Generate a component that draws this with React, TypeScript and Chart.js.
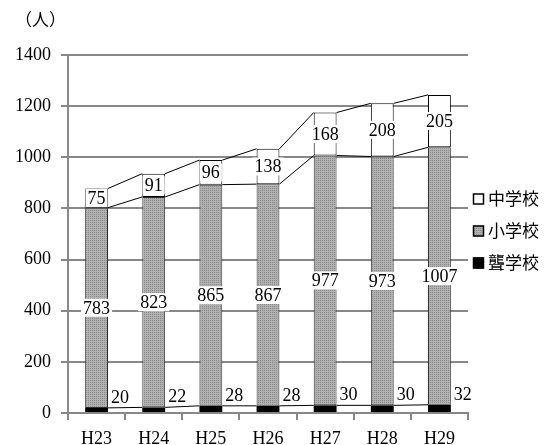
import React, { useEffect, useRef } from "react";
import { Chart, registerables } from "chart.js";

Chart.register(...registerables);

const categories = ["H23", "H24", "H25", "H26", "H27", "H28", "H29"];
const deafSchool = [20, 22, 28, 28, 30, 30, 32];
const elementary = [783, 823, 865, 867, 977, 973, 1007];
const juniorHigh = [75, 91, 96, 138, 168, 208, 205];
const seriesNames = ["聾学校", "小学校", "中学校"];
const yTicksMax = 1400;
const yStep = 200;
const unitLabel = "（人）";

const SERIF = "'Liberation Serif', 'DejaVu Serif', serif";
const SANS = "'Noto Sans CJK JP', 'Noto Sans', sans-serif";

function makePattern(): CanvasPattern | string {
  const c = document.createElement("canvas");
  c.width = 2;
  c.height = 2;
  const ctx = c.getContext("2d");
  if (!ctx) return "#a5a5a5";
  ctx.fillStyle = "#b0b0b0";
  ctx.fillRect(0, 0, 2, 2);
  ctx.fillStyle = "#8a8a8a";
  ctx.fillRect(0, 0, 1, 1);
  const p = ctx.createPattern(c, "repeat");
  return p || "#a5a5a5";
}

export default function App() {
  const ref = useRef<HTMLCanvasElement | null>(null);

  useEffect(() => {
    document.body.style.margin = "0";
    const canvas = ref.current;
    if (!canvas) return;
    const pattern = makePattern();
    const fills = ["#000000", pattern, "#ffffff"];

    const overlay = {
      id: "overlay",
      afterDatasetsDraw(chart: any) {
        const ctx = chart.ctx as CanvasRenderingContext2D;
        ctx.save();
        // series lines
        ctx.strokeStyle = "#000";
        ctx.lineWidth = 1;
        for (let d = 0; d < chart.data.datasets.length; d++) {
          const meta = chart.getDatasetMeta(d);
          for (let i = 0; i < meta.data.length - 1; i++) {
            const a = meta.data[i] as any;
            const b = meta.data[i + 1] as any;
            ctx.beginPath();
            ctx.moveTo(a.x + a.width / 2, a.y);
            ctx.lineTo(b.x - b.width / 2, b.y);
            ctx.stroke();
          }
        }
        // labels
        ctx.font = "18px " + SERIF;
        ctx.textBaseline = "middle";
        const drawLabel = (txt: string, cx: number, cy: number, align: "center" | "left") => {
          const w = ctx.measureText(txt).width;
          const h = 18;
          const left = align === "center" ? cx - w / 2 : cx;
          ctx.fillStyle = "#fff";
          ctx.fillRect(left - 2, cy - h / 2, w + 4, h);
          ctx.fillStyle = "#000";
          ctx.textAlign = "left";
          ctx.fillText(txt, left, cy + 1);
        };
        for (let d = 0; d < chart.data.datasets.length; d++) {
          const meta = chart.getDatasetMeta(d);
          const vals = chart.data.datasets[d].data as number[];
          meta.data.forEach((el: any, i: number) => {
            const txt = String(vals[i]);
            if (d === 0) {
              drawLabel(txt, el.x + el.width / 2 + 3, el.y - 11, "left");
            } else {
              drawLabel(txt, el.x, (el.y + el.base) / 2, "center");
            }
          });
        }
        // unit label
        ctx.font = "17px " + SANS;
        ctx.textAlign = "left";
        ctx.fillStyle = "#000";
        ctx.fillText(unitLabel, 15, 20);
        // legend
        const items = [2, 1, 0];
        items.forEach((d, k) => {
          const cy = 199 + k * 32;
          const bx = 473;
          ctx.fillStyle = fills[d] as any;
          ctx.fillRect(bx, cy - 5.5, 11, 11);
          ctx.strokeStyle = "#000";
          ctx.lineWidth = 1.5;
          ctx.strokeRect(bx + 0.5, cy - 5, 10, 10);
          ctx.fillStyle = "#000";
          ctx.font = "17px " + SANS;
          ctx.textBaseline = "middle";
          ctx.fillText(seriesNames[d], 488, cy);
        });
        ctx.restore();
      },
    };

    const chart = new Chart(canvas, {
      type: "bar",
      data: {
        labels: categories,
        datasets: [
          {
            label: seriesNames[0],
            data: deafSchool,
            backgroundColor: "#000",
            borderColor: "#000",
            borderWidth: 0,
          },
          {
            label: seriesNames[1],
            data: elementary,
            backgroundColor: pattern as any,
            borderColor: "#333",
            borderWidth: 1,
            borderSkipped: false,
          },
          {
            label: seriesNames[2],
            data: juniorHigh,
            backgroundColor: "#fff",
            borderColor: "#000",
            borderWidth: 1,
            borderSkipped: false,
          },
        ],
      },
      options: {
        responsive: false,
        animation: false,
        devicePixelRatio: 1,
        layout: { padding: { top: 55, right: 84, left: 0, bottom: 0 } },
        datasets: { bar: { barPercentage: 0.4, categoryPercentage: 1 } },
        plugins: {
          legend: { display: false },
          tooltip: { enabled: false },
        },
        scales: {
          x: {
            stacked: true,
            grid: {
              offset: true,
              drawOnChartArea: false,
              drawTicks: true,
              tickLength: 7,
              color: "#888",
              lineWidth: 2,
            },
            border: { color: "#888", width: 2 },
            ticks: { color: "#000", font: { family: SERIF, size: 18 }, padding: 8, maxRotation: 0 },
            afterFit(scale: any) {
              scale.height = 32;
            },
          },
          y: {
            stacked: true,
            min: 0,
            max: yTicksMax,
            grid: { color: "#888", lineWidth: 2, tickLength: 7 },
            border: { color: "#888", width: 2 },
            ticks: {
              stepSize: yStep,
              color: "#000",
              font: { family: SERIF, size: 18 },
              padding: 10,
              callback: (v: any) => String(v),
            },
            afterFit(scale: any) {
              scale.width = 68;
            },
          },
        },
      },
      plugins: [overlay],
    });
    return () => chart.destroy();
  }, []);

  return (
    <div style={{ position: "absolute", left: 0, top: 0, width: 552, height: 445 }}>
      <canvas ref={ref} width={552} height={445} />
    </div>
  );
}
